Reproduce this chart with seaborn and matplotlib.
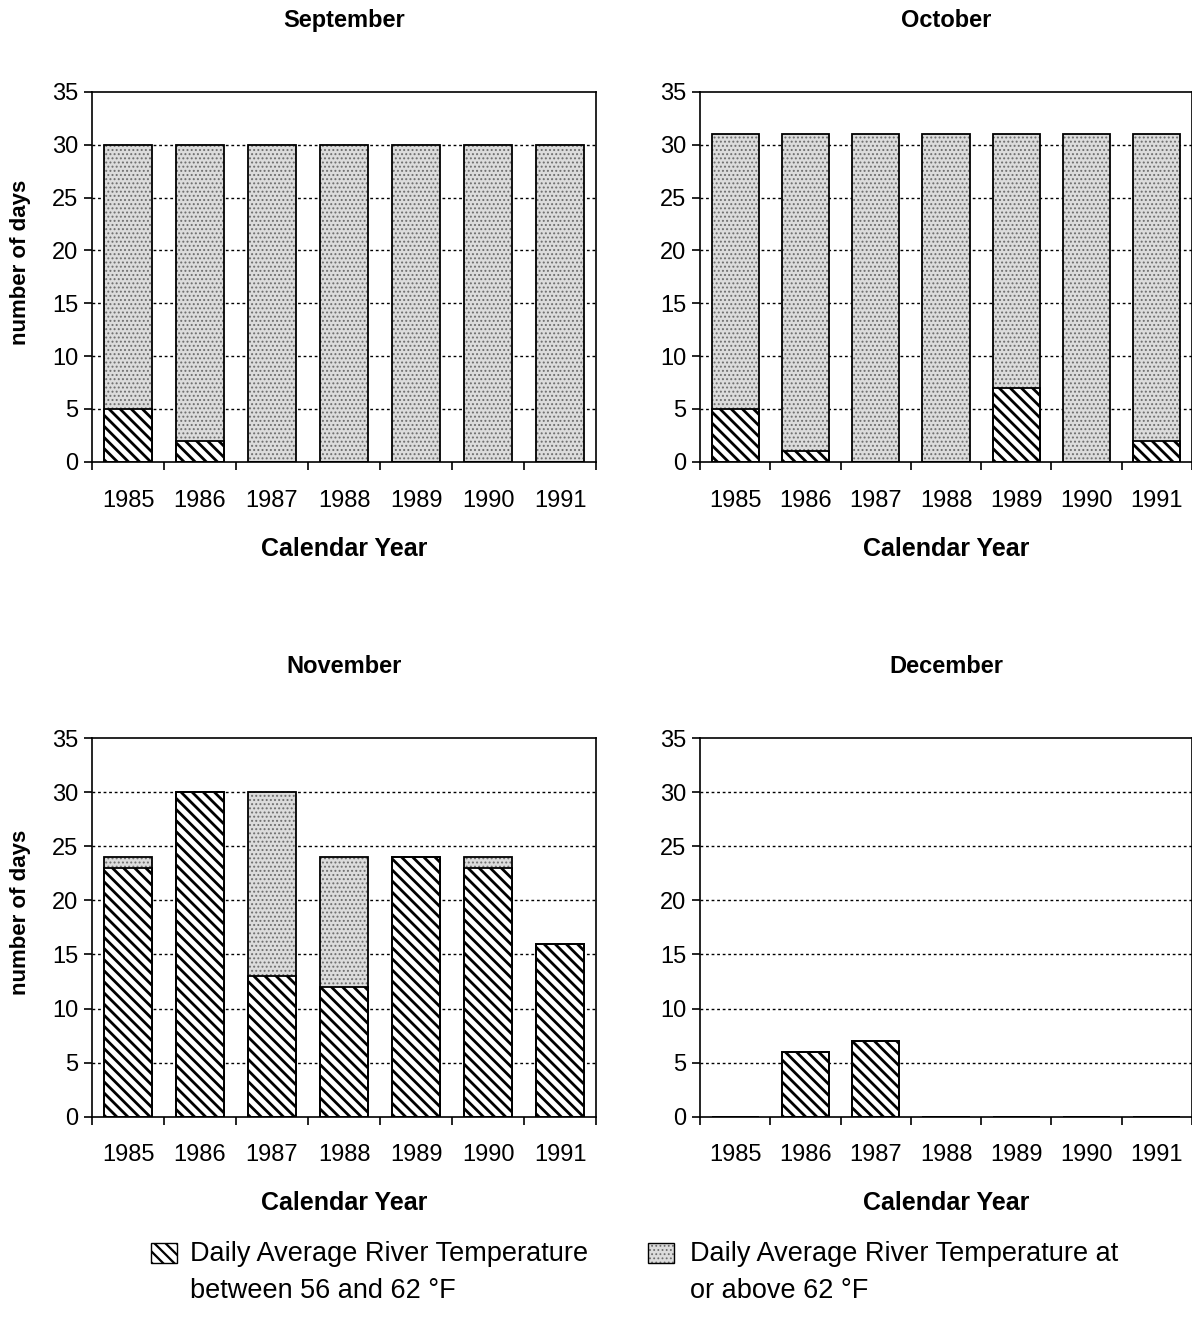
import matplotlib
matplotlib.use("Agg")
import matplotlib.pyplot as plt
import seaborn as sns
import numpy as np
from matplotlib.patches import Rectangle

years = ["1985", "1986", "1987", "1988", "1989", "1990", "1991"]
months = ["September", "October", "November", "December"]

sep_between = [5, 2, 0, 0, 0, 0, 0]
sep_total = [30, 30, 30, 30, 30, 30, 30]
oct_between = [5, 1, 0, 0, 7, 0, 2]
oct_total = [31, 31, 31, 31, 31, 31, 31]
nov_between = [23, 30, 13, 12, 24, 23, 16]
nov_total = [24, 30, 30, 24, 24, 24, 16]
dec_between = [0, 6, 7, 0, 0, 0, 0]
dec_total = [0, 6, 7, 0, 0, 0, 0]

legend_labels = ["Daily Average River Temperature\nbetween 56 and 62 \u00b0F",
                 "Daily Average River Temperature at\nor above 62 \u00b0F"]

sns.set_theme(style="white")
plt.rcParams['font.family'] = ['Liberation Sans', 'DejaVu Sans']
plt.rcParams['text.color'] = 'black'
plt.rcParams['axes.labelcolor'] = 'black'
plt.rcParams['xtick.color'] = 'black'
plt.rcParams['ytick.color'] = 'black'

fig = plt.figure(figsize=(11.92, 13.31), dpi=100)

positions = [
    (92 / 1192, 0.653, 504 / 1192, 0.278),
    (700 / 1192, 0.653, 492 / 1192, 0.278),
    (92 / 1192, 0.161, 504 / 1192, 0.2845),
    (700 / 1192, 0.161, 492 / 1192, 0.2845),
]
data = [(sep_between, sep_total), (oct_between, oct_total),
        (nov_between, nov_total), (dec_between, dec_total)]

DOT_FC = "#dcdcdc"
DOT_EC = "#6e6e6e"

for i, (month, (btw, tot)) in enumerate(zip(months, data)):
    ax = fig.add_axes(positions[i])
    for yv in range(5, 35, 5):
        ax.axhline(yv, color="black", lw=1.0, ls=(0, (2, 2)), zorder=0)
    with plt.rc_context({'hatch.linewidth': 0.9}):
        sns.barplot(x=years, y=tot, ax=ax, order=years, width=0.67,
                    color=DOT_FC, edgecolor=DOT_EC, linewidth=0,
                    hatch="....", saturation=1, zorder=2)
    sns.barplot(x=years, y=tot, ax=ax, order=years, width=0.67,
                fill=False, edgecolor="black", linewidth=1.3, zorder=4)
    with plt.rc_context({'hatch.linewidth': 2.0}):
        sns.barplot(x=years, y=btw, ax=ax, order=years, width=0.67,
                    color="white", edgecolor="black", linewidth=1.3,
                    hatch="\\\\\\", saturation=1, zorder=3)
    ax.set_ylim(0, 35)
    ax.set_xlim(-0.5, 6.5)
    ax.set_yticks(range(0, 36, 5))
    ax.set_xticks(range(7))
    ax.set_xticklabels(years)
    ax.set_xticks(np.arange(-0.5, 7, 1), minor=True)
    ax.tick_params(axis="x", which="major", length=0, pad=20, labelsize=17)
    ax.tick_params(axis="x", which="minor", length=6, width=1.2, direction="out", color="black", bottom=True)
    ax.tick_params(axis="y", length=6, width=1.2, direction="out", color="black", left=True, labelsize=17, pad=4)
    for s in ax.spines.values():
        s.set_color("black")
        s.set_linewidth(1.2)
    ax.set_title(month, fontsize=17, fontweight="bold", pad=47)
    ax.set_xlabel("Calendar Year", fontsize=18, fontweight="bold", labelpad=18)
    if i % 2 == 0:
        ax.set_ylabel("number of days", fontsize=16, fontweight="bold")
        ax.yaxis.set_label_coords(-0.122, 0.54)
    else:
        ax.set_ylabel("")

def fig_rect(x0, y0, w, h, **kw):
    r = Rectangle((x0 / 1192, 1 - (y0 + h) / 1331), w / 1192, h / 1331,
                  transform=fig.transFigure, **kw)
    fig.add_artist(r)

with plt.rc_context({'hatch.linewidth': 1.6}):
    fig_rect(151, 1243, 26, 20, facecolor="white", edgecolor="black", lw=1.0, hatch="\\\\\\")
with plt.rc_context({'hatch.linewidth': 0.8}):
    fig_rect(648, 1243, 26, 20, facecolor=DOT_FC, edgecolor=DOT_EC, lw=0, hatch="....")
fig_rect(648, 1243, 26, 20, fill=False, edgecolor="black", lw=1.0)

fig.text(190 / 1192, 1 - 1241 / 1331, legend_labels[0], fontsize=19.5, va="top", ha="left", linespacing=1.55)
fig.text(690 / 1192, 1 - 1241 / 1331, legend_labels[1], fontsize=19.5, va="top", ha="left", linespacing=1.55)

fig.savefig("out.png", dpi=100)
